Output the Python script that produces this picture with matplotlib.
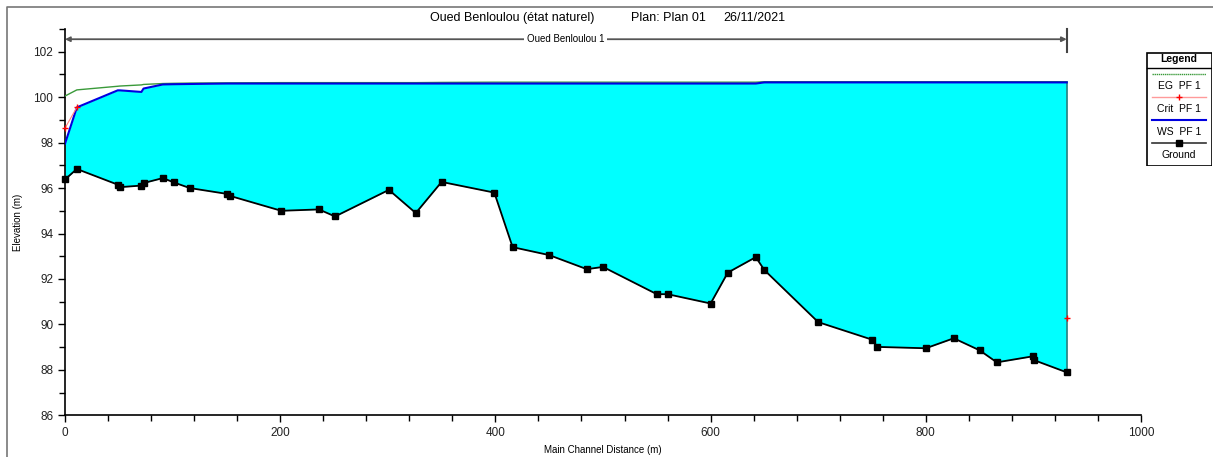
import numpy as np
import matplotlib.pyplot as plt
from matplotlib.lines import Line2D
from matplotlib.patches import Rectangle
from matplotlib.ticker import MultipleLocator

plt.rcParams['font.family'] = ['Liberation Sans', 'DejaVu Sans']

# river stations (main channel distance, m)
stations = [0, 11, 49, 51, 71, 73, 91, 101, 116, 151, 153, 201, 236, 251, 301, 326,
            350, 399, 416, 450, 485, 500, 550, 560, 600, 616, 642, 650, 700, 750, 755,
            800, 826, 850, 866, 900, 901, 931]
ground = [96.38, 96.84, 96.15, 96.04, 96.11, 96.22, 96.44, 96.25, 96.00, 95.74, 95.66,
          95.00, 95.06, 94.75, 95.92, 94.90, 96.27, 95.80, 93.40, 93.05, 92.43, 92.53,
          91.33, 91.33, 90.92, 92.28, 92.96, 92.39, 90.10, 89.33, 89.01, 88.95, 89.39,
          88.86, 88.33, 88.60, 88.42, 87.89]
ws = [97.95, 99.55, 100.30, 100.30, 100.23, 100.38, 100.56, 100.57, 100.58, 100.60, 100.60,
      100.60, 100.60, 100.60, 100.60, 100.60, 100.60, 100.60, 100.60, 100.60, 100.60, 100.60,
      100.60, 100.60, 100.60, 100.60, 100.60, 100.65, 100.65, 100.65, 100.65, 100.65, 100.65,
      100.65, 100.65, 100.65, 100.65, 100.65]
eg = [100.05, 100.32, 100.48, 100.49, 100.54, 100.56, 100.60, 100.61, 100.62, 100.63, 100.63,
      100.64, 100.64, 100.64, 100.64, 100.64, 100.65, 100.66, 100.66, 100.66, 100.66, 100.66,
      100.66, 100.66, 100.66, 100.66, 100.66, 100.68, 100.68, 100.68, 100.68, 100.68, 100.68,
      100.68, 100.68, 100.68, 100.68, 100.68]
crit_x = [0, 11, np.nan, 931]
crit_y = [98.64, 99.55, np.nan, 90.26]

reach_name = "Oued Benloulou 1"

W, H = 1213, 457
fig = plt.figure(figsize=(W / 100, H / 100), dpi=100)
ax = fig.add_axes([65 / W, 41.7 / H, 1076 / W, 386.3 / H])

ax.fill_between(stations, ground, ws, color='#00ffff', lw=0, zorder=1)
ax.plot([stations[-1], stations[-1]], [ground[-1], ws[-1]], color='#2a7f7f', lw=1.2, zorder=2)
ax.plot(stations, eg, color='#3a9a3a', lw=1, zorder=3)
ax.plot(crit_x, crit_y, color='#ff8080', lw=0.8, marker='+', mec='red', ms=5, mew=1,
        zorder=6, clip_on=False)
ax.plot(stations, ws, color='#0000e0', lw=1.5, zorder=4)
ax.plot(stations, ground, color='black', lw=1.3, marker='s', ms=4.5, zorder=5, clip_on=False)

ax.set_xlim(0, 1000)
ax.set_ylim(86, 103)
ax.xaxis.set_major_locator(MultipleLocator(200))
ax.xaxis.set_minor_locator(MultipleLocator(40))
ax.yaxis.set_major_locator(MultipleLocator(2))
ax.yaxis.set_minor_locator(MultipleLocator(1))
ax.tick_params(which='both', direction='out', labelsize=8.5, color='black', width=1,
               labelcolor='#222222')
ax.tick_params(which='major', length=5)
ax.tick_params(which='minor', length=4)
ax.spines['top'].set_visible(False)
ax.spines['right'].set_visible(False)
for s in ('left', 'bottom'):
    ax.spines[s].set_linewidth(1.2)
ax.set_xlabel('Main Channel Distance (m)', fontsize=7, va='center')
ax.xaxis.set_label_coords(0.5, -0.09)
ax.set_ylabel('Elevation (m)', fontsize=7)
ax.yaxis.set_label_coords(-0.039, 0.5)

# reach bar
ybar = 102.55
ax.annotate('', xy=(0, ybar), xytext=(stations[-1], ybar),
            arrowprops=dict(arrowstyle='<|-|>', color='#555555', lw=1.3,
                            mutation_scale=7, shrinkA=0, shrinkB=0),
            annotation_clip=False)
ax.plot([stations[-1], stations[-1]], [102.0, 103.0], color='#444444', lw=1.5, clip_on=False)
ax.text(stations[-1] / 2, ybar, reach_name, fontsize=7, ha='center', va='center',
        bbox=dict(facecolor='white', edgecolor='none', pad=2), zorder=6)

# title
fig.text(430 / W, 1 - 18 / H, 'Oued Benloulou (état naturel)', fontsize=9, va='center', ha='left')
fig.text(631 / W, 1 - 18 / H, 'Plan: Plan 01', fontsize=9, va='center', ha='left')
fig.text(723 / W, 1 - 18 / H, '26/11/2021', fontsize=9, va='center', ha='left')

# outer frame (top and left)
fig.add_artist(Line2D([7 / W, 7 / W, 1], [0, 1 - 7 / H, 1 - 7 / H], color='#777777', lw=1.2))

# legend
lg = fig.add_axes([1146 / W, (H - 166) / H, 66 / W, 114 / H])
lg.set_xlim(0, 66)
lg.set_ylim(114, 0)
lg.axis('off')
lg.add_patch(Rectangle((0.5, 0.5), 65, 113, fill=False, edgecolor='black', lw=1.2))
lg.plot([0.5, 65.5], [15.5, 15.5], color='black', lw=1)
lg.text(33, 7.5, 'Legend', fontsize=7.5, fontweight='bold', ha='center', va='center')
entries = [
    ('EG  PF 1', dict(color='#3a9a3a', lw=1, ls=(0, (1, 0.5))), None),
    ('Crit  PF 1', dict(color='#ff9a9a', lw=1), dict(marker='+', color='red', ms=5, mew=1)),
    ('WS  PF 1', dict(color='#0000e0', lw=1.5), None),
    ('Ground', dict(color='#333333', lw=1.2), dict(marker='s', color='black', ms=4)),
]
for i, (name, lstyle, mstyle) in enumerate(entries):
    yl = 22.3 + i * 23
    lg.plot([6, 60], [yl, yl], **lstyle)
    if mstyle:
        lg.plot([33], [yl], ls='none', **mstyle)
    lg.text(33, yl + 11.5, name, fontsize=7.5, ha='center', va='center')

fig.savefig('out.png', dpi=100)
